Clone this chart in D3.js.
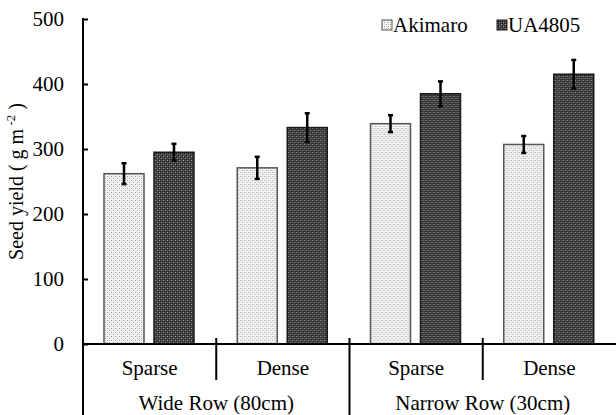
<!DOCTYPE html>
<html>
<head>
<meta charset="utf-8">
<script src="https://cdn.jsdelivr.net/npm/d3@7"></script>
<style>
  body { margin: 0; background: #fff; }
  svg { display: block; }
  text { font-family: "Liberation Serif", "Times New Roman", serif; fill: #000; }
</style>
</head>
<body>
<svg id="chart" width="616" height="415"></svg>
<script>
// values
const groups = ['Wide Row (80cm)', 'Narrow Row (30cm)'];
const densities = ['Sparse', 'Dense', 'Sparse', 'Dense'];
const series = ['Akimaro', 'UA4805'];
const akimaro = [262, 271, 339, 307];
const akimaroErr = [16, 17, 13, 13];
const ua4805 = [295, 333, 385, 415];
const ua4805Err = [13, 22, 19, 22];
const yTicks = [0, 100, 200, 300, 400, 500];

const width = 616;
const height = 415;
const margin = { left: 83, right: 0, top: 19, bottom: 71 };
const yBase = height - margin.bottom;
const serif = '"Liberation Serif", "Times New Roman", serif';

const svg = d3.select('#chart');

// fill patterns (light dotted / dark checkered)
const defs = svg.append('defs');
const pLight = defs.append('pattern')
  .attr('id', 'pLight').attr('patternUnits', 'userSpaceOnUse')
  .attr('width', 4).attr('height', 4);
pLight.append('rect').attr('width', 4).attr('height', 4).attr('fill', '#f4f4f4');
[[0, 0, '#9c9c9c'], [2, 2, '#9c9c9c'], [2, 0, '#cfcfcf'], [0, 2, '#dcdcdc']].forEach(p => {
  pLight.append('rect').attr('x', p[0]).attr('y', p[1]).attr('width', 1).attr('height', 1)
    .attr('fill', p[2]);
});
const pDark = defs.append('pattern')
  .attr('id', 'pDark').attr('patternUnits', 'userSpaceOnUse')
  .attr('width', 4).attr('height', 4);
pDark.append('rect').attr('width', 4).attr('height', 4).attr('fill', '#4a4a4a');
[[0, 0, '#9a9a9a'], [2, 2, '#8a8a8a'], [1, 1, '#1a1a1a'], [3, 3, '#1a1a1a'], [1, 3, '#222'], [3, 1, '#222']].forEach(p => {
  pDark.append('rect').attr('x', p[0]).attr('y', p[1]).attr('width', 1).attr('height', 1)
    .attr('fill', p[2]);
});

const fills = { Akimaro: 'url(#pLight)', UA4805: 'url(#pDark)' };
const strokes = { Akimaro: '#555', UA4805: '#1a1a1a' };

const x0 = d3.scaleBand()
  .domain(d3.range(densities.length))
  .range([margin.left, width - margin.right]);

const x1 = d3.scaleBand()
  .domain(series)
  .range([x0.bandwidth() * 0.1576, x0.bandwidth() * 0.8330])
  .paddingInner(0.2);

const y = d3.scaleLinear()
  .domain([0, 500])
  .range([yBase, margin.top]);

const rows = densities.map((d, i) => ({
  i,
  vals: [
    { s: 'Akimaro', v: akimaro[i], e: akimaroErr[i] },
    { s: 'UA4805', v: ua4805[i], e: ua4805Err[i] }
  ]
}));

const cat = svg.append('g').selectAll('g')
  .data(rows)
  .enter().append('g')
  .attr('transform', d => 'translate(' + x0(d.i) + ',0)');

cat.selectAll('rect')
  .data(d => d.vals)
  .enter().append('rect')
  .attr('x', d => x1(d.s))
  .attr('y', d => y(d.v))
  .attr('width', x1.bandwidth())
  .attr('height', d => yBase - y(d.v))
  .attr('fill', d => fills[d.s])
  .attr('stroke', d => strokes[d.s])
  .attr('stroke-width', 1.5);

// error bars
const err = cat.selectAll('g.err')
  .data(d => d.vals)
  .enter().append('g')
  .attr('class', 'err')
  .attr('stroke', '#000')
  .attr('stroke-width', 2.5);
err.append('line')
  .attr('x1', d => x1(d.s) + x1.bandwidth() / 2)
  .attr('x2', d => x1(d.s) + x1.bandwidth() / 2)
  .attr('y1', d => y(d.v + d.e))
  .attr('y2', d => y(d.v - d.e));
['+', '-'].forEach(sign => {
  err.append('line')
    .attr('x1', d => x1(d.s) + x1.bandwidth() / 2 - 2.5)
    .attr('x2', d => x1(d.s) + x1.bandwidth() / 2 + 2.5)
    .attr('y1', d => y(sign === '+' ? d.v + d.e : d.v - d.e))
    .attr('y2', d => y(sign === '+' ? d.v + d.e : d.v - d.e));
});

// y axis
const yAxis = svg.append('g')
  .attr('transform', 'translate(' + margin.left + ',0)')
  .call(d3.axisLeft(y).tickValues(yTicks).tickSizeInner(-5).tickSizeOuter(0).tickPadding(19));
yAxis.attr('font-family', serif).attr('font-size', 21);
yAxis.select('.domain').remove();
yAxis.selectAll('.tick line').attr('stroke', '#000').attr('stroke-width', 2);
yAxis.selectAll('.tick text').attr('fill', '#000');

svg.append('line')
  .attr('x1', margin.left).attr('x2', margin.left)
  .attr('y1', y(500) - 1).attr('y2', height)
  .attr('stroke', '#000').attr('stroke-width', 2);

// x axis baseline
svg.append('line')
  .attr('x1', margin.left).attr('x2', width)
  .attr('y1', yBase).attr('y2', yBase)
  .attr('stroke', '#000').attr('stroke-width', 2);

// category separators
d3.range(1, densities.length).forEach(i => {
  const bx = x0(i);
  svg.append('line')
    .attr('x1', bx).attr('x2', bx)
    .attr('y1', yBase - 6)
    .attr('y2', i === 2 ? height : yBase + 36)
    .attr('stroke', '#000').attr('stroke-width', 2);
});

svg.append('g').selectAll('text')
  .data(densities)
  .enter().append('text')
  .attr('x', (d, i) => x0(i) + x0.bandwidth() / 2)
  .attr('y', yBase + 31)
  .attr('text-anchor', 'middle')
  .attr('font-family', serif)
  .attr('font-size', 21)
  .text(d => d);

svg.append('g').selectAll('text')
  .data(groups)
  .enter().append('text')
  .attr('x', (d, i) => (x0(i * 2) + x0(i * 2 + 1) + x0.bandwidth()) / 2)
  .attr('y', yBase + 66)
  .attr('text-anchor', 'middle')
  .attr('font-family', serif)
  .attr('font-size', 21)
  .text(d => d);

// y label
const yl = svg.append('text')
  .attr('transform', 'translate(23,' + ((y(0) + y(500)) / 2) + ') rotate(-90)')
  .attr('text-anchor', 'middle')
  .attr('font-family', serif)
  .attr('font-size', 20);
yl.append('tspan').text('Seed yield ( g m');
yl.append('tspan').attr('font-size', 13).attr('dy', -8).text(' -2');
yl.append('tspan').attr('dy', 8).text(' )');

// legend
const legendX = [382, 497];
const leg = svg.append('g').selectAll('g')
  .data(series)
  .enter().append('g')
  .attr('transform', (d, i) => 'translate(' + legendX[i] + ',0)');
leg.append('rect')
  .attr('x', 0).attr('y', 20)
  .attr('width', 10).attr('height', 10)
  .attr('fill', d => fills[d])
  .attr('stroke', d => strokes[d])
  .attr('stroke-width', 1);
leg.append('text')
  .attr('x', 11).attr('y', 32)
  .attr('font-family', serif)
  .attr('font-size', 21)
  .text(d => d);
</script>
</body>
</html>
